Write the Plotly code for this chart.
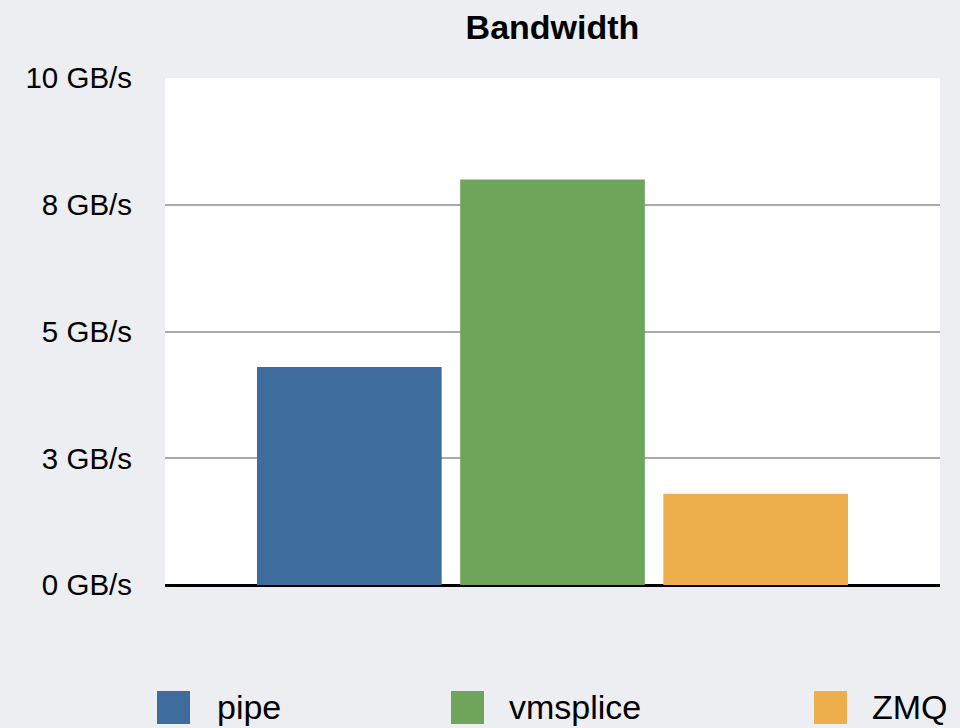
import plotly.graph_objects as go

# ---- data ----
series_names = ["pipe", "vmsplice", "ZMQ"]
bandwidth_gbs = [4.30, 8.0, 1.80]
series_colors = ["#3e6c9c", "#6ea55a", "#edaf4c"]
tick_values = [0, 2.5, 5, 7.5, 10]
tick_labels = ["0 GB/s", "3 GB/s", "5 GB/s", "8 GB/s", "10 GB/s"]
chart_title = "Bandwidth"

FONT = "Liberation Sans, Arial, Helvetica, sans-serif"

fig = go.Figure()
for name, val, col in zip(series_names, bandwidth_gbs, series_colors):
    fig.add_trace(go.Bar(x=[0], y=[val], name=name, marker=dict(color=col, line=dict(width=0)),
                         showlegend=False))

# custom legend (large squares) positioned in pixels -> paper coords
L, R, T, B = 165, 20, 78, 143
W, H = 960, 728
pw, ph = W - L - R, H - T - B

def px_x(px):
    return (px - L) / pw

def px_y(py):
    return (H - B - py) / ph

legend_square_left = [157, 451, 814]
legend_text_left = [215, 507, 870]
sq = 33
sq_top = 691
shapes = []
annotations = []
for name, col, sx, tx in zip(series_names, series_colors, legend_square_left, legend_text_left):
    shapes.append(dict(type="rect", xref="paper", yref="paper",
                       x0=px_x(sx), x1=px_x(sx + sq), y0=px_y(sq_top + sq), y1=px_y(sq_top),
                       fillcolor=col, line=dict(width=0)))
    annotations.append(dict(text=name, xref="paper", yref="paper", x=px_x(tx), y=px_y(sq_top + sq / 2 - 1),
                            xanchor="left", yanchor="middle", showarrow=False,
                            font=dict(family=FONT, size=34, color="#000000")))

fig.update_layout(
    width=W, height=H,
    margin=dict(l=L, r=R, t=T, b=B),
    paper_bgcolor="#edeef1",
    plot_bgcolor="#ffffff",
    barmode="group",
    bargap=0.2135,
    bargroupgap=0.091,
    title=dict(text="<b>" + chart_title + "</b>", x=0.5, xref="paper", xanchor="center",
               y=1 - 27 / H, yref="container", yanchor="middle",
               font=dict(family=FONT, size=34, color="#000000")),
    xaxis=dict(range=[-0.5, 0.5], showticklabels=False, showgrid=False, zeroline=False,
               showline=False, ticks=""),
    yaxis=dict(range=[0, 10], tickvals=tick_values, ticktext=tick_labels,
               showgrid=True, gridcolor="#a9a9a9", gridwidth=2,
               zeroline=True, zerolinecolor="#000000", zerolinewidth=3,
               showline=False, ticks="", ticklabelstandoff=32,
               tickfont=dict(family=FONT, size=29.5, color="#000000")),
    shapes=shapes,
    annotations=annotations,
    showlegend=False,
)

fig.write_html("out.html")
